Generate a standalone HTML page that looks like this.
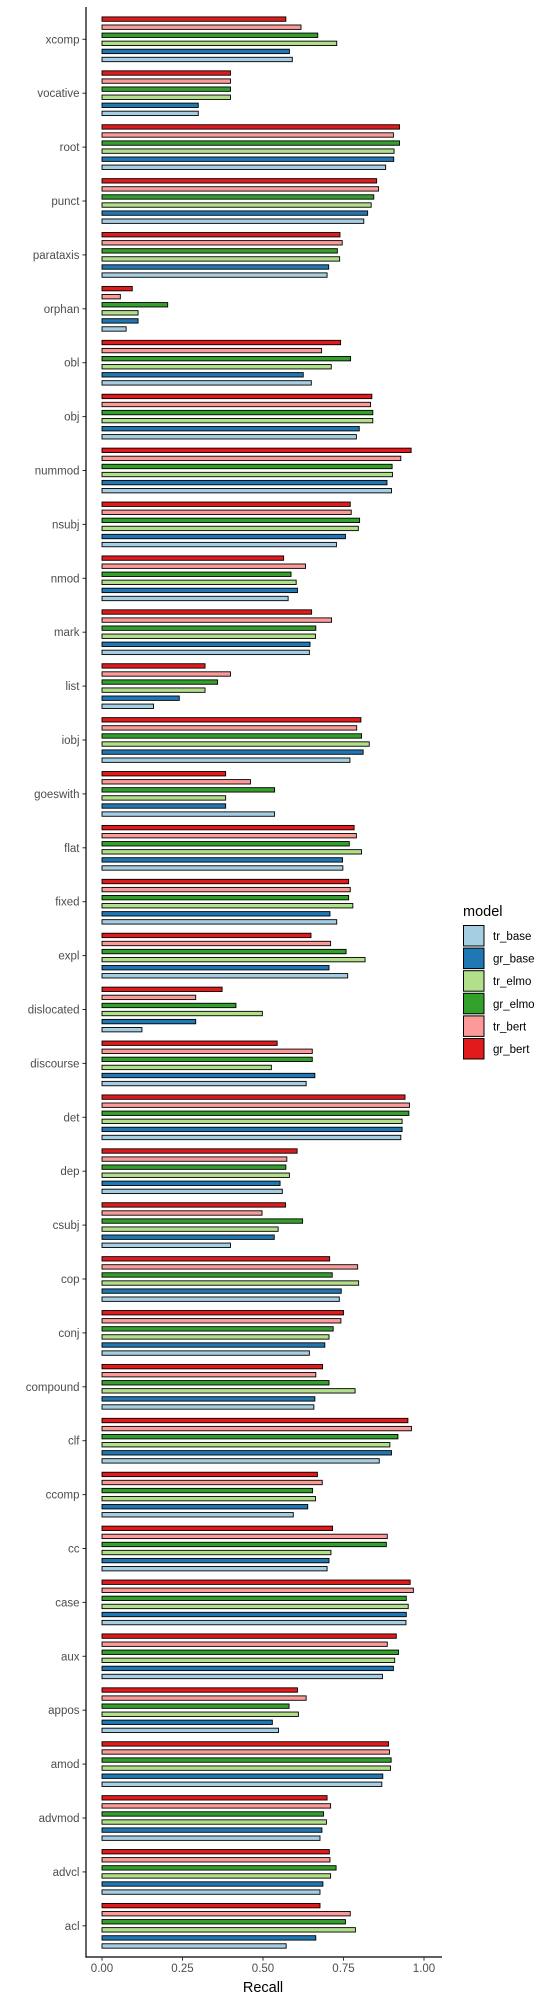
<!DOCTYPE html>
<html><head><meta charset="utf-8"><style>
html,body{margin:0;padding:0;background:#fff;}
svg{display:block;font-family:"Liberation Sans",Arial,sans-serif;}
</style></head><body>
<svg id="chart" width="550" height="2000" viewBox="0 0 550 2000" xmlns="http://www.w3.org/2000/svg"></svg>
<script>
const categories = ["xcomp","vocative","root","punct","parataxis","orphan","obl","obj","nummod","nsubj","nmod","mark","list","iobj","goeswith","flat","fixed","expl","dislocated","discourse","det","dep","csubj","cop","conj","compound","clf","ccomp","cc","case","aux","appos","amod","advmod","advcl","acl"];
const gr_bert = [0.571,0.399,0.924,0.853,0.739,0.094,0.741,0.838,0.960,0.771,0.564,0.651,0.320,0.804,0.384,0.783,0.766,0.649,0.373,0.544,0.941,0.606,0.570,0.707,0.750,0.685,0.950,0.669,0.716,0.957,0.914,0.607,0.890,0.699,0.706,0.677];
const tr_bert = [0.618,0.399,0.905,0.859,0.746,0.057,0.682,0.834,0.928,0.774,0.632,0.713,0.399,0.791,0.461,0.790,0.771,0.710,0.291,0.653,0.955,0.574,0.497,0.794,0.742,0.664,0.961,0.684,0.886,0.967,0.886,0.634,0.893,0.710,0.708,0.771];
const gr_elmo = [0.670,0.399,0.924,0.844,0.731,0.204,0.772,0.841,0.901,0.800,0.587,0.664,0.359,0.806,0.536,0.768,0.766,0.758,0.416,0.653,0.953,0.571,0.623,0.715,0.718,0.705,0.919,0.654,0.883,0.945,0.921,0.581,0.898,0.688,0.727,0.756];
const tr_elmo = [0.729,0.399,0.907,0.836,0.738,0.112,0.712,0.841,0.902,0.796,0.603,0.663,0.320,0.830,0.384,0.806,0.779,0.817,0.498,0.526,0.932,0.582,0.547,0.797,0.705,0.786,0.894,0.663,0.711,0.951,0.909,0.610,0.896,0.697,0.710,0.787];
const gr_base = [0.582,0.299,0.906,0.825,0.704,0.112,0.625,0.799,0.885,0.756,0.607,0.646,0.240,0.811,0.384,0.747,0.708,0.705,0.291,0.661,0.932,0.553,0.535,0.743,0.692,0.661,0.899,0.639,0.705,0.945,0.905,0.529,0.872,0.683,0.686,0.664];
const tr_base = [0.591,0.299,0.881,0.813,0.699,0.075,0.650,0.790,0.899,0.728,0.578,0.644,0.160,0.770,0.536,0.748,0.729,0.763,0.124,0.634,0.928,0.560,0.399,0.737,0.644,0.658,0.861,0.594,0.699,0.944,0.871,0.548,0.869,0.677,0.677,0.572];
const xTicks = [0, 0.25, 0.5, 0.75, 1.0];
const xTickLabels = ["0.00","0.25","0.50","0.75","1.00"];

const seriesNames = ["gr_bert","tr_bert","gr_elmo","tr_elmo","gr_base","tr_base"];
const seriesData = [gr_bert,tr_bert,gr_elmo,tr_elmo,gr_base,tr_base];
const colors = {tr_base:"#a6cee3",gr_base:"#1f78b4",tr_elmo:"#b2df8a",gr_elmo:"#33a02c",tr_bert:"#fb9a99",gr_bert:"#e31a1c"};
const legendOrder = ["tr_base","gr_base","tr_elmo","gr_elmo","tr_bert","gr_bert"];

const NS = "http://www.w3.org/2000/svg";
const svg = document.getElementById("chart");
function mk(tag, attrs){const e=document.createElementNS(NS,tag);for(const k in attrs)e.setAttribute(k,attrs[k]);return e;}
const x0 = 102, xUnit = 322;
function xScale(v){return x0 + v*xUnit;}
const yTop = 39.3, yStep = 53.9;
function yScale(i){return yTop + i*yStep;}
const barStep = 8.07, barH = 4.4;

const plot = mk("g",{});


svg.appendChild(plot);

categories.forEach((c,i)=>{
  const cy = yScale(i);
  const g = mk("g",{});
  
  
  seriesNames.forEach((s,j)=>{
    const v = seriesData[j][i];
    const by = cy + (j-2.5)*barStep - barH/2;
    const r = mk("rect",{x:xScale(0),y:by,width:xScale(v)-xScale(0),height:barH,fill:colors[s],stroke:"#000","stroke-width":0.9});
    
    
    g.appendChild(r);
  });
  plot.appendChild(g);
  const t = mk("text",{x:79.5,y:cy+4,"text-anchor":"end","font-size":"11.5",fill:"#4d4d4d"});
  t.textContent = c;
  
  
  svg.appendChild(t);
  const tk = mk("line",{x1:82.4,x2:86,y1:cy,y2:cy,stroke:"#333","stroke-width":1});
  
  
  svg.appendChild(tk);
});

const yAxis = mk("line",{x1:86,x2:86,y1:7,y2:1957.5,stroke:"#000","stroke-width":1.2});


svg.appendChild(yAxis);
const xAxis = mk("line",{x1:85.4,x2:442,y1:1957,y2:1957,stroke:"#000","stroke-width":1.2});


svg.appendChild(xAxis);

xTicks.forEach((v,k)=>{
  const tk = mk("line",{x1:xScale(v),x2:xScale(v),y1:1957,y2:1960.6,stroke:"#333","stroke-width":1});
  
  
  svg.appendChild(tk);
  const t = mk("text",{x:xScale(v),y:1972,"text-anchor":"middle","font-size":"11.5",fill:"#4d4d4d"});
  t.textContent = xTickLabels[k];
  
  
  svg.appendChild(t);
});

const xt = mk("text",{x:xScale(0.5),y:1992,"text-anchor":"middle","font-size":"14.5",fill:"#000"});
xt.textContent = "Recall";


svg.appendChild(xt);

const lg = mk("g",{});


svg.appendChild(lg);
const lt = mk("text",{x:463,y:916,"font-size":"14.5",fill:"#000"});
lt.textContent = "model";


lg.appendChild(lt);
legendOrder.forEach((s,k)=>{
  const ky = 925.5 + k*22.6;
  const r = mk("rect",{x:463.5,y:ky,width:20.5,height:20.5,fill:colors[s],stroke:"#000","stroke-width":1});
  
  
  lg.appendChild(r);
  const t = mk("text",{x:493,y:ky+14.5,"font-size":"11.5",fill:"#000"});
  t.textContent = s;
  
  
  lg.appendChild(t);
});
</script>
</body></html>
